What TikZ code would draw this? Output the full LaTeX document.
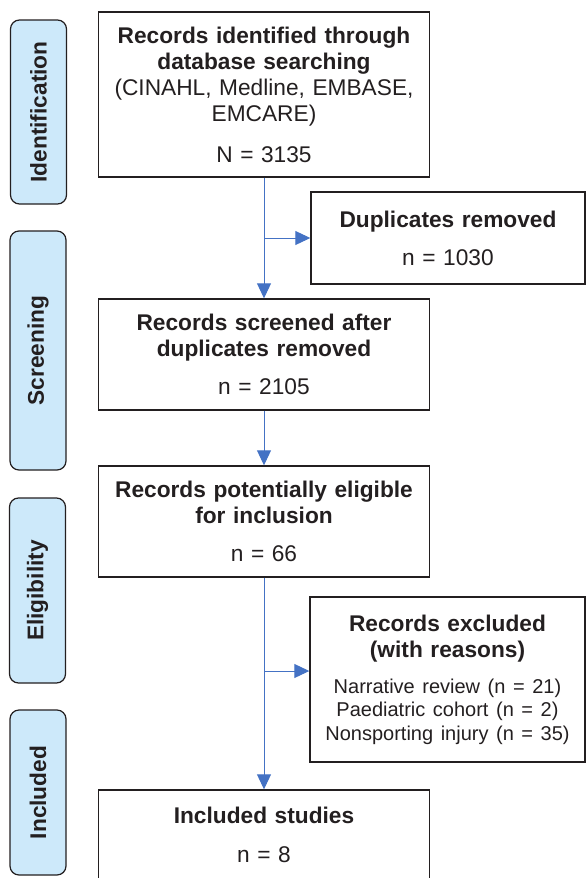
\documentclass[tikz,border=0pt]{standalone}
\usepackage{fontspec}
\setmainfont{Liberation Sans}
\usetikzlibrary{arrows.meta}
\definecolor{ink}{RGB}{35,31,32}
\definecolor{flowblue}{RGB}{68,114,196}
\definecolor{stagefill}{RGB}{205,233,250}

\begin{document}
\begin{tikzpicture}[x=1pt,y=-1pt,
    box/.style={draw=ink,line width=1.4pt,text=ink,align=center,inner sep=0pt,font=\fontsize{22.7}{26}\selectfont},
    stage/.style={draw=ink,line width=1.2pt,fill=stagefill,rounded corners=9pt,rotate=90,minimum width=#1,minimum height=56pt,inner sep=0pt,text=ink,font=\bfseries\fontsize{22.7}{26}\selectfont},
    flow/.style={draw=flowblue,line width=1pt,-{Triangle[length=15pt,width=14pt]}}]
    \useasboundingbox (0,0) rectangle (586,878);
    % phase labels
    \node[stage=184pt] (sIdent) at (38.5,112) {Identification};
    \node[stage=239pt] (sScreen) at (38,350.5) {Screening};
    \node[stage=185pt] (sElig) at (37.5,590.5) {Eligibility};
    \node[stage=165pt] (sIncl) at (38,792.5) {Included};
    % main column
    \node[box,minimum width=331pt,minimum height=165pt,text width=321pt] (ident) at (264,94.5)
        {\textbf{Records identified through}\\\textbf{database searching}\\(CINAHL, Medline, EMBASE,\\EMCARE)\\[15pt]N = 3135};
    \node[box,minimum width=331pt,minimum height=111pt,text width=321pt] (screen) at (264,354.5)
        {\textbf{Records screened after}\\\textbf{duplicates removed}\\[12pt]n = 2105};
    \node[box,minimum width=331pt,minimum height=111pt,text width=321pt] (elig) at (264,521.5)
        {\textbf{Records potentially eligible}\\\textbf{for inclusion}\\[12pt]n = 66};
    \node[box,minimum width=331pt,minimum height=90pt,text width=321pt] (incl) at (264,835)
        {\textbf{Included studies}\\[13pt]n = 8};
    % side boxes
    \node[box,minimum width=274pt,minimum height=92pt,text width=264pt] (dup) at (448,238)
        {\textbf{Duplicates removed}\\[12pt]n = 1030};
    \node[box,minimum width=275pt,minimum height=165pt,text width=265pt] (excl) at (447.5,679.5)
        {\textbf{Records excluded}\\\textbf{(with reasons)}\par\vspace{12.5pt}%
        {\fontsize{20}{23.5}\selectfont Narrative review (n = 21)\\Paediatric cohort (n = 2)\\Nonsporting injury (n = 35)\par}};
    % arrows
    \draw[flow] (ident) -- (screen);
    \draw[flow] (ident.south |- dup.west) -- (dup.west);
    \draw[flow] (screen) -- (elig);
    \draw[flow] (elig) -- (incl);
    \coordinate (split) at (264,671);
    \draw[flow] (split) -- (split -| excl.west);
\end{tikzpicture}
\end{document}
